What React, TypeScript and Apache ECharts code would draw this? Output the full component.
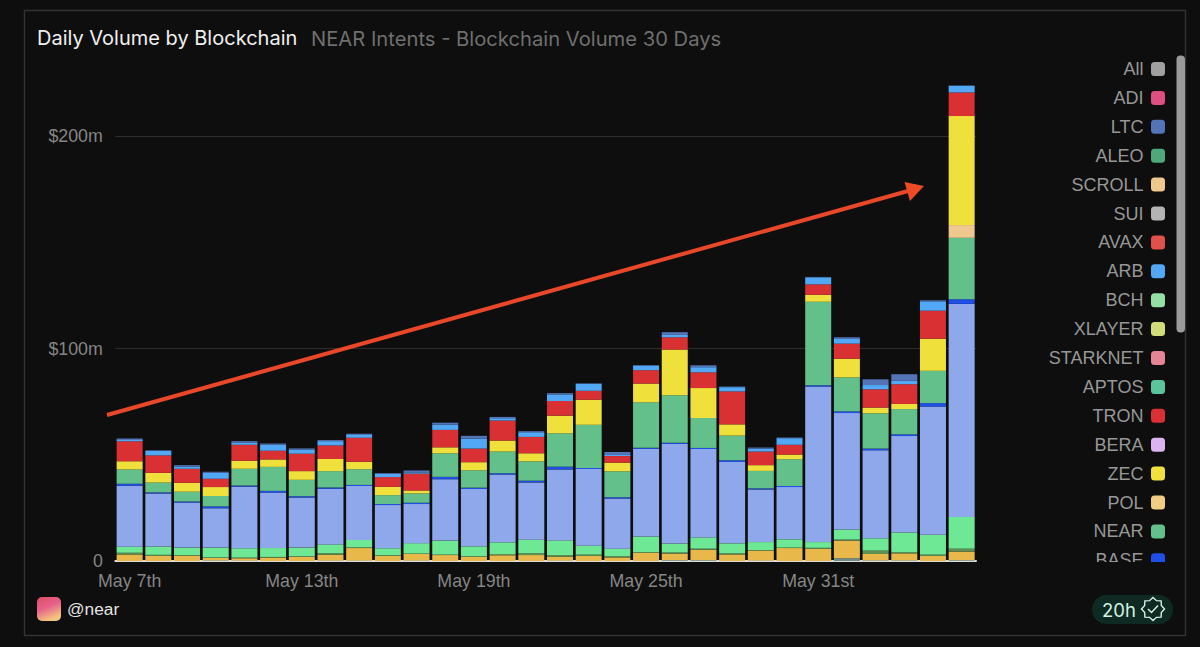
import React, { useEffect, useRef } from "react";
import * as echarts from "echarts";

const days: string[] = [
  "May 7th","May 8th","May 9th","May 10th","May 11th","May 12th","May 13th","May 14th","May 15th","May 16th",
  "May 17th","May 18th","May 19th","May 20th","May 21st","May 22nd","May 23rd","May 24th","May 25th","May 26th",
  "May 27th","May 28th","May 29th","May 30th","May 31st","Jun 1st","Jun 2nd","Jun 3rd","Jun 4th","Jun 5th",
];

const solValues = [0,0,0,0.3,0.2,0,0,0.2,0.2,0,0.2,0,0,0,0,0.2,0,0,0,0.4,0.4,0,0.2,0,0,1.3,0.3,0.3,0,0.4];
const bscValues = [3.1,2.4,2.5,1.1,1.1,1.6,2.0,2.8,5.9,2.4,3.1,2.8,2.0,2.7,2.8,1.8,2.4,1.7,3.9,3.1,4.9,3.1,4.7,6.1,5.7,8.3,3.0,3.3,2.4,4.0];
const tonValues = [0.8,0.5,0.2,0.3,0.3,0.3,0.2,0.6,0.3,0.3,0.2,0.2,0.2,0.6,0.8,0.8,0.6,0.6,0.2,0.5,0.5,0.5,0.2,0.2,0.5,0.5,1.6,0.5,0.6,1.4];
const btcValues = [2.8,3.9,3.6,4.6,4.4,4.2,4.1,4.2,3.5,3.3,4.9,6.6,4.7,5.5,6.4,6.9,4.2,3.5,7.4,4.2,5.3,4.7,3.8,3.9,2.7,4.7,5.8,9.3,9.3,14.9];
const ethValues = [28.7,25.0,21.2,18.5,29.0,26.1,23.6,26.2,25.4,20.3,18.4,28.9,27.0,31.9,27.0,33.4,36.1,23.6,41.3,46.9,41.6,38.3,24.8,24.6,73.2,54.8,41.4,45.4,60.4,100.3];
const baseValues = [0.9,0.5,0.5,0.9,0.5,0.8,0.6,0.6,0.5,0.5,0.6,1.1,0.6,0.6,0.8,1.3,0.5,0.6,0.5,0.6,0.5,0.8,0.5,0.5,0.6,0.8,0.8,0.8,1.6,2.2];
const nearValues = [6.8,4.6,4.6,4.9,7.9,11.3,7.7,7.7,7.4,4.2,4.4,11.1,8.2,10.2,9.1,15.7,20.3,12.2,21.4,22.3,14.1,11.6,8.2,12.6,39.3,16.0,16.6,11.9,15.2,28.9];
const scrollValues = [0,0,0,0,0,0,0,0,0,0,0,0,0,0,0,0,0,0,0,0,0,0,0,0,0,0,0,0,0,6.0];
const zecValues = [3.9,4.6,4.2,4.2,3.8,3.5,4.1,5.7,3.5,3.9,1.4,2.8,3.8,5.2,3.8,8.3,11.8,4.1,8.8,21.5,14.1,5.3,2.7,2.2,3.3,8.8,2.7,2.4,15.1,51.3];
const tronValues = [9.3,8.2,6.6,3.9,7.5,4.1,8.2,6.4,11.3,4.6,7.9,8.2,6.4,9.4,7.7,6.9,4.2,3.1,6.3,5.8,7.4,15.5,6.4,4.6,4.9,7.1,8.6,9.3,13.2,11.1];
const arbValues = [0.6,2.2,1.1,2.8,1.1,2.8,2.0,2.0,1.3,1.6,0.6,2.5,4.7,1.1,2.2,3.1,3.3,0.5,2.2,1.1,2.4,2.0,1.4,3.1,3.3,2.2,2.0,1.6,4.4,3.1];
const ltcValues = [0.8,0.2,0.6,0.5,0.6,0.6,0.5,0.5,0.6,0.3,0.9,0.9,1.3,0.6,0.5,0.6,0.2,1.4,0.2,1.3,0.9,0.3,0.5,0.3,0.2,0.8,2.7,3.1,0.5,0.2];

const filledSeries: [string, number[], string][] = [
  ["SOL", solValues, "#6f8f8a"],
  ["BSC", bscValues, "#e8b84a"],
  ["TON", tonValues, "#5f8f52"],
  ["BTC", btcValues, "#6fe896"],
  ["ETH", ethValues, "#8fa8ec"],
  ["BASE", baseValues, "#1f50e6"],
  ["NEAR", nearValues, "#63c08a"],
  ["SCROLL", scrollValues, "#eec88c"],
  ["ZEC", zecValues, "#f0e03c"],
  ["TRON", tronValues, "#d93034"],
  ["ARB", arbValues, "#52a8f5"],
  ["LTC", ltcValues, "#5474b8"],
];

const legendItems: [string, string][] = [
  ["All", "#a0a0a0"], ["ADI", "#dc4f80"], ["LTC", "#4f6fb8"], ["ALEO", "#4fa87c"],
  ["SCROLL", "#eec88c"], ["SUI", "#b4b4b4"], ["AVAX", "#e0514c"], ["ARB", "#4fa4f8"],
  ["BCH", "#96dfa4"], ["XLAYER", "#d2dc78"], ["STARKNET", "#e48494"], ["APTOS", "#5cc49c"],
  ["TRON", "#dc3438"], ["BERA", "#dcb4f0"], ["ZEC", "#f0e440"], ["POL", "#f0cc84"],
  ["NEAR", "#63c08a"], ["BASE", "#2050f0"],
];

const FONT = "Inter, 'Liberation Sans', sans-serif";
const SANS = "'Liberation Sans', sans-serif";
const BG = "#0e0e0e";

export default function App() {
  const ref = useRef<HTMLDivElement>(null);
  useEffect(() => {
    document.body.style.margin = "0";
    document.body.style.background = BG;
    const chart = echarts.init(ref.current!, null, { renderer: "svg" });

    const filledNames = filledSeries.map((s) => s[0]);
    const series: any[] = filledSeries.map(([name, data, color]) => ({
      name, type: "bar", stack: "v", data, barWidth: 26,
      itemStyle: { color }, emphasis: { disabled: true },
    }));
    legendItems.forEach(([name, color]) => {
      if (!filledNames.includes(name)) {
        series.push({ name, type: "bar", stack: "v", data: [], barWidth: 26, itemStyle: { color } });
      }
    });

    const cx = 1153, cy = 609;
    const badge: number[][] = [];
    for (let i = 0; i < 16; i++) {
      const r = i % 2 === 0 ? 11.5 : 9;
      const a = (i / 16) * Math.PI * 2;
      badge.push([cx + r * Math.cos(a), cy + r * Math.sin(a)]);
    }

    chart.setOption({
      animation: false,
      backgroundColor: BG,
      textStyle: { fontFamily: FONT },
      title: [
        { text: "Daily Volume by Blockchain", left: 37, top: 28, padding: 0, textStyle: { color: "#f0f0f0", fontSize: 20, fontWeight: 400, fontFamily: FONT } },
        { text: "NEAR Intents - Blockchain Volume 30 Days", left: 311, top: 28, padding: 0, textStyle: { color: "#6f6f6f", fontSize: 20.2, fontWeight: 400, fontFamily: FONT } },
      ],
      grid: { left: 115.3, top: 82.9, width: 860.7, height: 478.1, containLabel: false },
      tooltip: { show: false },
      xAxis: {
        type: "category", data: days,
        axisLine: { show: true, lineStyle: { color: "#dddddd", width: 2 } },
        axisTick: { show: false },
        axisLabel: { interval: 5, color: "#858585", fontSize: 17.8, margin: 11, fontFamily: SANS },
      },
      yAxis: {
        type: "value", min: 0, max: 225, interval: 100,
        axisLine: { show: false }, axisTick: { show: false },
        splitLine: { show: true, showMaxLine: false, showMinLine: false, lineStyle: { color: "#2e2e2e", width: 1 } },
        axisLabel: {
          showMaxLabel: false, color: "#858585", fontSize: 17.8, margin: 12.5,
          fontFamily: SANS,
          formatter: (v: number) => (v === 0 ? "0" : `$${v}m`),
        },
      },
      legend: {
        type: "plain", orient: "vertical", align: "right", right: 35, top: 60,
        itemWidth: 14, itemHeight: 14, itemGap: 10.9, icon: "roundRect", selectedMode: false,
        padding: 0,
        textStyle: { color: "#979797", fontSize: 18, lineHeight: 18, fontFamily: SANS, padding: [0, 2.5, 0, 0] },
        data: legendItems.map((d) => d[0]),
      },
      series,
      graphic: [
        { type: "rect", z: 100, shape: { x: 1040, y: 562, width: 140, height: 30 }, style: { fill: BG } },
        { type: "rect", z: 101, shape: { x: 24.5, y: 10.5, width: 1161, height: 625 }, style: { fill: "none", stroke: "#333333", lineWidth: 1.5 } },
        { type: "rect", z: 101, shape: { x: 1176.5, y: 55.5, width: 8.5, height: 277, r: 4 }, style: { fill: "#9a9a9a" } },
        { type: "line", z: 102, shape: { x1: 107, y1: 415, x2: 908, y2: 191 }, style: { stroke: "#e8472a", lineWidth: 4 } },
        { type: "polygon", z: 102, shape: { points: [[924, 186], [904.5, 182], [910, 201]] }, style: { fill: "#ee4a26" } },
        { type: "rect", z: 101, shape: { x: 37, y: 597, width: 24, height: 24, r: 5 },
          style: { fill: new echarts.graphic.LinearGradient(0, 0, 0.4, 1, [
            { offset: 0, color: "#dc4f62" }, { offset: 0.5, color: "#e6608a" }, { offset: 1, color: "#f4c47c" },
          ]) } },
        { type: "text", z: 101, style: { x: 67, y: 609, text: "@near", fill: "#e4e4e4", fontSize: 17.3, fontFamily: SANS, verticalAlign: "middle" } },
        { type: "rect", z: 101, shape: { x: 1092, y: 595, width: 81, height: 29, r: 14.5 }, style: { fill: "#0e2a22" } },
        { type: "text", z: 102, style: { x: 1102, y: 609.5, text: "20h", fill: "#d4f2e4", fontSize: 18.5, fontFamily: FONT, verticalAlign: "middle" } },
        { type: "polygon", z: 102, shape: { points: badge }, style: { fill: "none", stroke: "#d4f2e4", lineWidth: 1.4 } },
        { type: "polyline", z: 102, shape: { points: [[1148, 609], [1151.5, 612.5], [1158, 605.5]] }, style: { fill: "none", stroke: "#d4f2e4", lineWidth: 1.5 } },
      ],
    });
    return () => chart.dispose();
  }, []);
  return <div ref={ref} style={{ position: "absolute", left: 0, top: 0, width: 1200, height: 647 }} />;
}
